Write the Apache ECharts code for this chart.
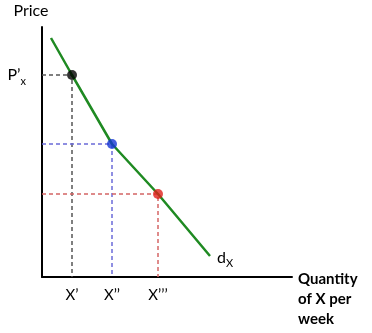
<!DOCTYPE html>
<html>
<head>
<meta charset="utf-8">
<script src="https://cdn.jsdelivr.net/npm/echarts@6/dist/echarts.min.js"></script>
<style>
  html, body { margin: 0; padding: 0; background: #fff; }
  #chart { width: 372px; height: 333px; }
</style>
</head>
<body>
<div id="chart"></div>
<script>
// Demand curve d_x (quantity, price) in plot units
const demandX = [9, 30, 70, 116, 168];
const demandY = [239, 202, 133, 83, 21];
const demandLabel = ['d', 'X'];

// Marked points on the curve
const pointX = [30, 70, 116];
const pointY = [202, 133, 83];
const pointColors = ['#000000', '#1536d6', '#e0201b'];
const guideColors = ['#555555', '#6a6ad8', '#d46464'];

// Axis labels
const xTickLabels = ['X\u2019', 'X\u2019\u2019', 'X\u2019\u2019\u2019'];
const yTickValues = [202];
const yTickLabel = ['P\u2019', 'x'];
const xAxisTitle = ['Quantity', 'of X per', 'week'];
const yAxisTitle = 'Price';

const FONT = 'Lato, "Liberation Sans", sans-serif';

const chart = echarts.init(document.getElementById('chart'), null, { renderer: 'canvas' });

const series = [];

// Dashed guides: axis -> point -> axis
pointX.forEach((x, i) => {
  series.push({
    type: 'line',
    data: [[0, pointY[i]], [x, pointY[i]], [x, 0]],
    symbol: 'none',
    silent: true,
    z: 1,
    lineStyle: { color: guideColors[i], width: 1.5, type: [4, 3] }
  });
});

// Demand curve with its end label
series.push({
  type: 'line',
  data: demandX.map((x, i) => [x, demandY[i]]),
  symbol: 'none',
  z: 2,
  lineStyle: { color: '#1f8a22', width: 2.5 },
  endLabel: {
    show: true,
    distance: 7,
    offset: [0, 2],
    formatter: '{d|' + demandLabel[0] + '}{s|' + demandLabel[1] + '}',
    rich: {
      d: { fontFamily: FONT, fontSize: 16, color: '#000' },
      s: { fontFamily: FONT, fontSize: 11, color: '#000', padding: [10, 0, 0, 0] }
    }
  }
});

// Points
series.push({
  type: 'scatter',
  data: pointX.map((x, i) => ({ value: [x, pointY[i]], itemStyle: { color: pointColors[i] } })),
  symbolSize: 10,
  z: 3
});

chart.setOption({
  animation: false,
  backgroundColor: '#fff',
  grid: { left: 42, top: 27, width: 250, height: 250, containLabel: false },
  xAxis: {
    type: 'value',
    min: 0,
    max: 250,
    splitLine: { show: false },
    axisTick: { show: false },
    axisLine: { onZero: false, lineStyle: { color: '#000', width: 2 } },
    axisLabel: {
      customValues: pointX,
      formatter: (v) => xTickLabels[pointX.indexOf(v)] || '',
      fontFamily: FONT,
      fontSize: 15,
      color: '#000',
      margin: 11
    },
    name: xAxisTitle.join('\n'),
    nameLocation: 'end',
    nameGap: 6,
    nameTextStyle: {
      fontFamily: FONT,
      fontSize: 15,
      fontWeight: 'bold',
      color: '#000',
      lineHeight: 20,
      align: 'left',
      verticalAlign: 'top',
      padding: [-8, 0, 0, 0]
    }
  },
  yAxis: {
    type: 'value',
    min: 0,
    max: 250,
    splitLine: { show: false },
    axisTick: { show: false },
    axisLine: { onZero: false, lineStyle: { color: '#000', width: 2 } },
    axisLabel: {
      customValues: yTickValues,
      formatter: () => '{p|' + yTickLabel[0] + '}{s|' + yTickLabel[1] + '}',
      margin: 16,
      rich: {
        p: { fontFamily: FONT, fontSize: 16, color: '#000' },
        s: { fontFamily: FONT, fontSize: 11, color: '#000', padding: [12, 0, 0, 0] }
      }
    },
    name: yAxisTitle,
    nameLocation: 'end',
    nameGap: 8,
    nameTextStyle: {
      fontFamily: FONT,
      fontSize: 16,
      color: '#000',
      align: 'center',
      padding: [0, 22, 0, 0]
    }
  },
  series: series
});
</script>
</body>
</html>
